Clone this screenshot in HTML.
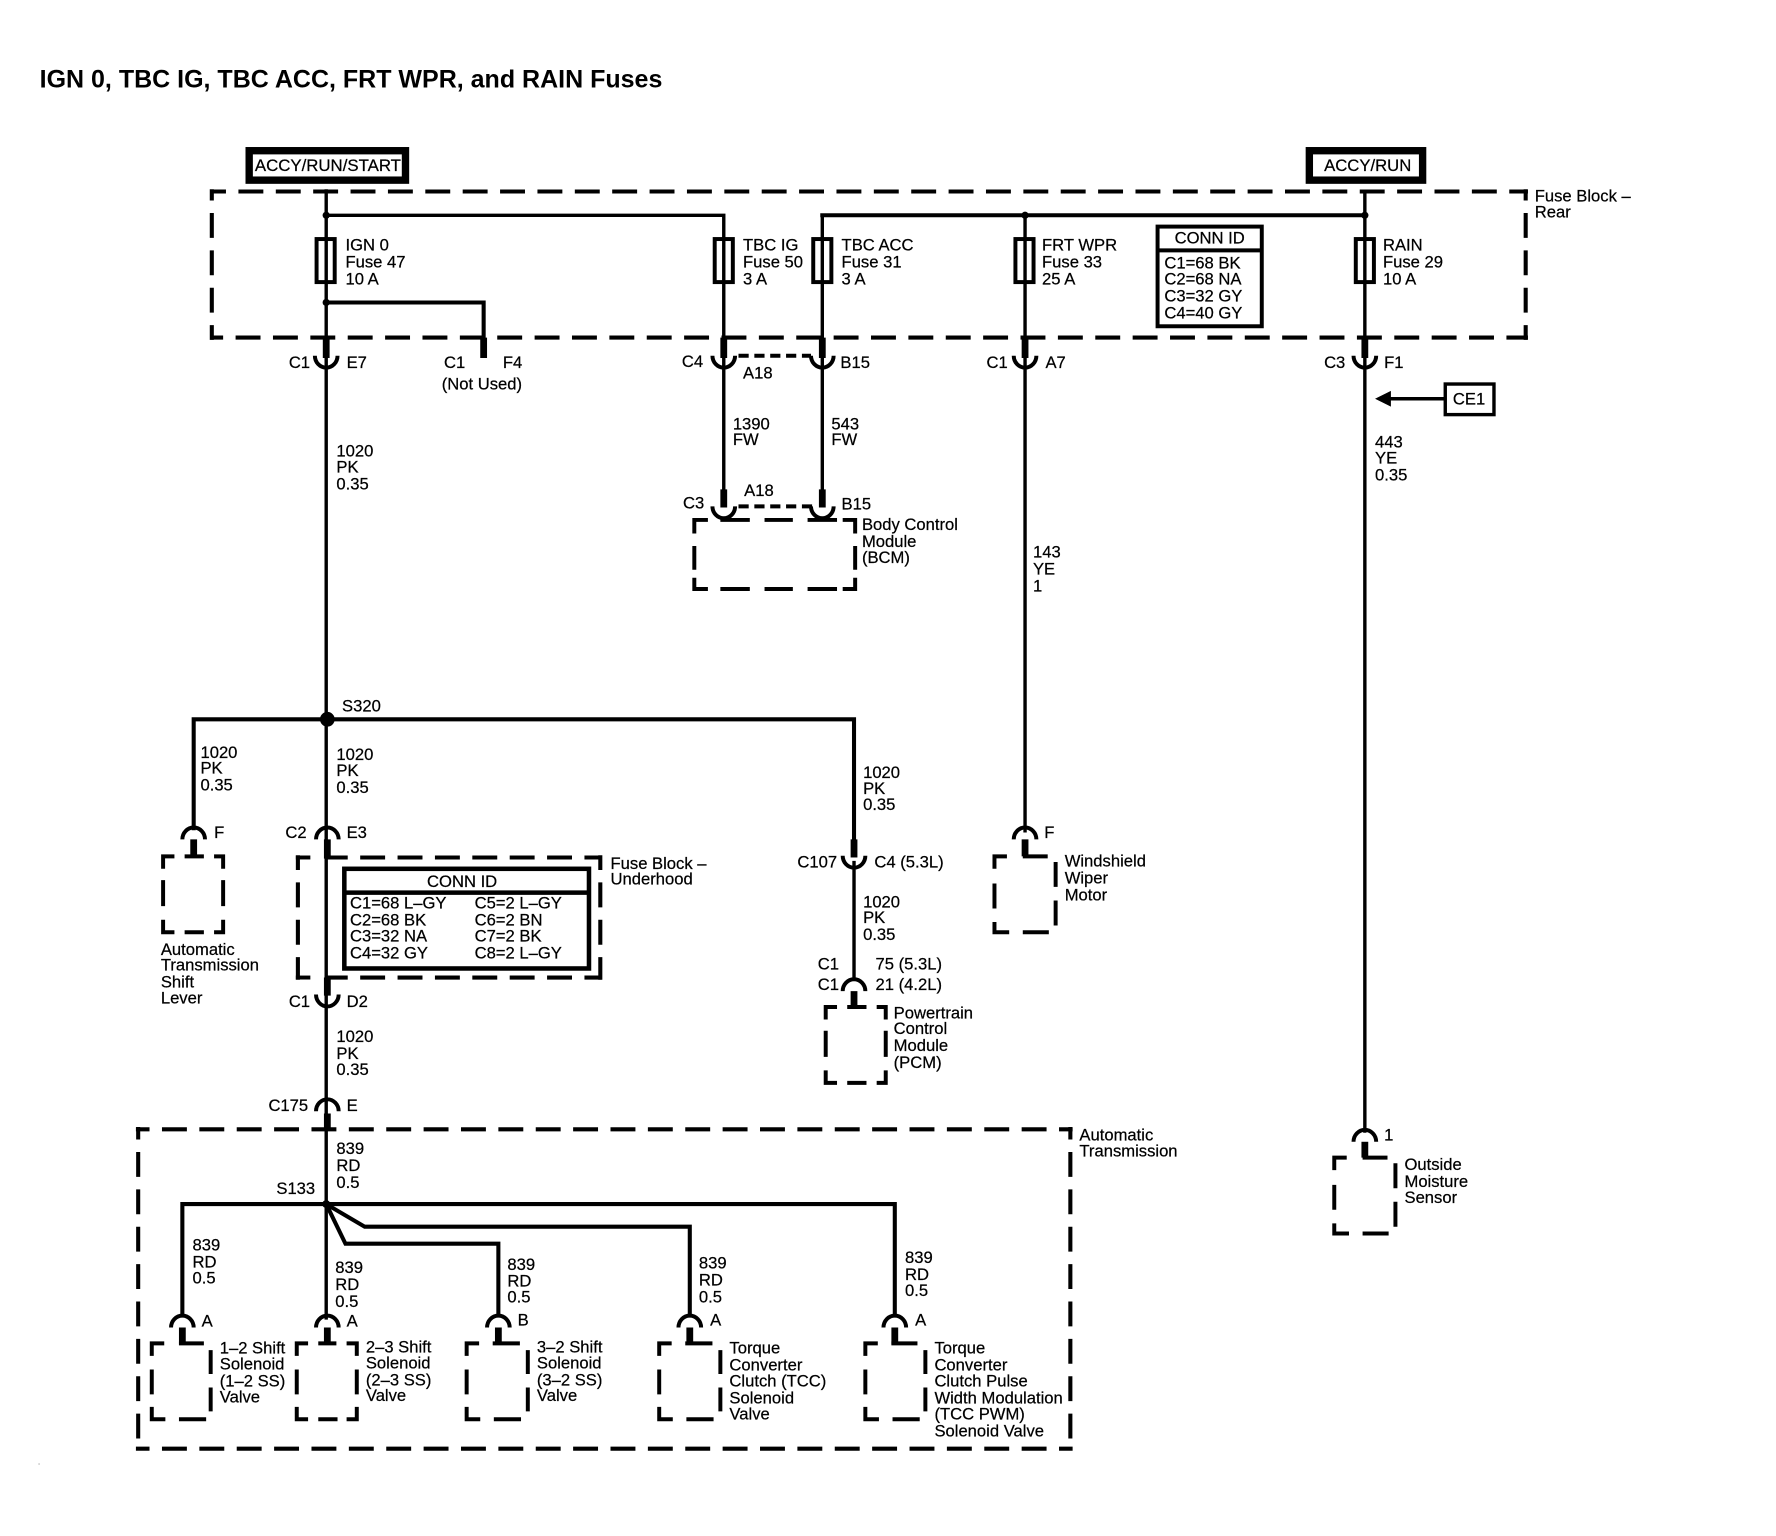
<!DOCTYPE html>
<html>
<head>
<meta charset="utf-8">
<style>
html,body{margin:0;padding:0;background:#fff;}
svg{display:block;}
text{font-family:"Liberation Sans",Arial,sans-serif;font-size:14.68px;fill:#000;stroke:#000;stroke-width:.2;}
.t{font-size:22.08px;font-weight:bold;stroke:none;}
.w{fill:none;stroke:#000;stroke-width:3;}
.h{fill:none;stroke:#000;stroke-width:3.6;}
.s{fill:none;stroke:#000;stroke-width:6;}
.c{fill:none;stroke:#000;stroke-width:3.5;}
.d{fill:none;stroke:#000;stroke-width:3.6;stroke-dasharray:22 11;}
</style>
</head>
<body>
<svg xmlns="http://www.w3.org/2000/svg" width="1776" height="1536" viewBox="0 0 1568 1356">
<defs>
<path id="u" class="c" d="M-10 0A10 10.5 0 0 0 10 0"/>
<path id="n" class="c" d="M-10 0A10 10.5 0 0 1 10 0"/>
</defs>
<rect width="1568" height="1356" fill="#fff"/>
<text class="t" x="35" y="77">IGN 0, TBC IG, TBC ACC, FRT WPR, and RAIN Fuses</text>
<rect x="220" y="133" width="138" height="26" fill="none" stroke="#000" stroke-width="6.5"/>
<text x="225" y="151" textLength="129" lengthAdjust="spacingAndGlyphs">ACCY/RUN/START</text>
<rect x="1156" y="133" width="100" height="26" fill="none" stroke="#000" stroke-width="6.5"/>
<text x="1169" y="151" textLength="77" lengthAdjust="spacingAndGlyphs">ACCY/RUN</text>

<!-- Fuse block rear frame -->
<path class="d" stroke-dashoffset="8.5" d="M186 169H1349"/>
<path class="d" stroke-dashoffset="11" d="M186 298H1349"/>
<path class="d" stroke-dashoffset="12" d="M187 167V300"/>
<path class="d" stroke-dashoffset="12" d="M1347 167V300"/>
<text x="1355" y="178">Fuse Block –</text>
<text x="1355" y="192">Rear</text>

<!-- Top wiring -->
<path class="w" d="M288 167V1165"/>
<path class="w" d="M288 190H639V445"/>
<path class="w" d="M726 190V445"/>
<path class="h" d="M724.2 190H1205"/>
<path class="w" d="M905 190V735"/>
<path class="w" d="M1205 169V1000"/>
<path class="h" d="M288 267H427V300"/>
<circle cx="288" cy="190" r="3.2"/>
<circle cx="288" cy="267" r="3.2"/>
<circle cx="905" cy="190" r="3.2"/>
<circle cx="1205" cy="190" r="3.2"/>

<!-- Fuses -->
<g fill="none" stroke="#000" stroke-width="3.5">
<rect x="279.5" y="211" width="16" height="38"/>
<rect x="631" y="211" width="16" height="38"/>
<rect x="718" y="211" width="16" height="38"/>
<rect x="896.5" y="211" width="16" height="38"/>
<rect x="1197" y="211" width="16" height="38"/>
</g>
<text x="305" y="221">IGN 0</text><text x="305" y="236">Fuse 47</text><text x="305" y="251">10 A</text>
<text x="656" y="221">TBC IG</text><text x="656" y="236">Fuse 50</text><text x="656" y="251">3 A</text>
<text x="743" y="221">TBC ACC</text><text x="743" y="236">Fuse 31</text><text x="743" y="251">3 A</text>
<text x="920" y="221">FRT WPR</text><text x="920" y="236">Fuse 33</text><text x="920" y="251">25 A</text>
<text x="1221" y="221">RAIN</text><text x="1221" y="236">Fuse 29</text><text x="1221" y="251">10 A</text>

<!-- Conn ID rear -->
<rect x="1022" y="200" width="92" height="88" fill="#fff" stroke="#000" stroke-width="3.5"/>
<path class="c" d="M1022 221H1114"/>
<text x="1068" y="215" text-anchor="middle">CONN ID</text>
<text x="1028" y="237">C1=68 BK</text>
<text x="1028" y="251">C2=68 NA</text>
<text x="1028" y="266">C3=32 GY</text>
<text x="1028" y="281">C4=40 GY</text>

<!-- Rear connectors -->
<path class="s" d="M288 298V316M427 298V316M639 298V316M726 298V316M905 298V316M1205 298V316"/>
<use href="#u" x="288" y="314"/><use href="#u" x="639" y="314"/><use href="#u" x="726" y="314"/><use href="#u" x="905" y="314"/><use href="#u" x="1205" y="314"/>
<path d="M652 314H716" fill="none" stroke="#000" stroke-width="3.5" stroke-dasharray="9 5"/>
<text x="255" y="325">C1</text><text x="306" y="325">E7</text>
<text x="392" y="325">C1</text><text x="444" y="325">F4</text>
<text x="390" y="344">(Not Used)</text>
<text x="602" y="324">C4</text><text x="656" y="334">A18</text><text x="742" y="325">B15</text>
<text x="871" y="325">C1</text><text x="923" y="325">A7</text>
<text x="1169" y="325">C3</text><text x="1222" y="325">F1</text>

<!-- CE1 -->
<rect x="1276" y="339" width="43" height="27" fill="none" stroke="#000" stroke-width="3"/>
<text x="1297" y="357" text-anchor="middle">CE1</text>
<path class="w" d="M1276 352H1226"/>
<path d="M1214 352L1228 345V359Z"/>

<text x="1214" y="395">443</text><text x="1214" y="409">YE</text><text x="1214" y="424">0.35</text>
<text x="297" y="403">1020</text><text x="297" y="417">PK</text><text x="297" y="432">0.35</text>
<text x="647" y="379">1390</text><text x="647" y="393">FW</text>
<text x="734" y="379">543</text><text x="734" y="393">FW</text>
<text x="912" y="492">143</text><text x="912" y="507">YE</text><text x="912" y="522">1</text>

<!-- BCM -->
<path class="s" d="M639 432V448M726 432V448"/>
<use href="#u" x="639" y="447"/><use href="#u" x="726" y="447"/>
<path d="M652 447H718" fill="none" stroke="#000" stroke-width="3.5" stroke-dasharray="9 5"/>
<path class="c" d="M613 471V459H625M636 459H662M675 459H700M713 459H739M744 459H755V471M613 482V503M755 482V503M613 510V520H625M636 520H662M675 520H700M713 520H739M744 520H755V510"/>
<text x="603" y="449">C3</text><text x="657" y="438">A18</text><text x="743" y="450">B15</text>
<text x="761" y="468">Body Control</text><text x="761" y="483">Module</text><text x="761" y="497">(BCM)</text>

<!-- S320 split -->
<circle cx="289" cy="635" r="6.5"/>
<path class="h" d="M171 733V635H754V745"/>
<text x="302" y="628">S320</text>
<text x="177" y="669">1020</text><text x="177" y="683">PK</text><text x="177" y="698">0.35</text>
<text x="297" y="671">1020</text><text x="297" y="685">PK</text><text x="297" y="700">0.35</text>
<text x="762" y="687">1020</text><text x="762" y="701">PK</text><text x="762" y="715">0.35</text>

<!-- Shift lever -->
<use href="#n" x="171" y="741"/>
<path class="s" d="M171 741V756"/>
<path class="c" d="M144 767V756H154M163 756H180M189 756H197V767M144 777V800M197 777V800M144 812V823H154M163 823H180M189 823H197V812"/>
<text x="189" y="740">F</text>
<text x="142" y="843">Automatic</text><text x="142" y="857">Transmission</text><text x="142" y="872">Shift</text><text x="142" y="886">Lever</text>

<!-- Fuse Block Underhood -->
<use href="#n" x="289" y="741"/>
<path class="s" d="M289 741V758M289 863V879M289 983V998"/>
<path class="d" stroke-dashoffset="9" d="M263 755V865"/>
<path class="c" d="M261.2 757H274"/>
<path class="d" stroke-dashoffset="4" d="M289 757H531"/>
<path class="c" d="M261.2 863H274"/>
<path class="d" stroke-dashoffset="4" d="M289 863H531"/>
<path class="d" stroke-dashoffset="9" d="M530 755V865"/>
<rect x="304" y="767" width="216" height="88" fill="#fff" stroke="#000" stroke-width="4"/>
<path d="M304 788H520" stroke="#000" stroke-width="4"/>
<text x="408" y="783" text-anchor="middle">CONN ID</text>
<text x="309" y="802">C1=68 L–GY</text><text x="419" y="802">C5=2 L–GY</text>
<text x="309" y="817">C2=68 BK</text><text x="419" y="817">C6=2 BN</text>
<text x="309" y="831">C3=32 NA</text><text x="419" y="831">C7=2 BK</text>
<text x="309" y="846">C4=32 GY</text><text x="419" y="846">C8=2 L–GY</text>
<text x="252" y="740">C2</text><text x="306" y="740">E3</text>
<text x="539" y="767">Fuse Block –</text><text x="539" y="781">Underhood</text>
<use href="#u" x="289" y="878"/>
<text x="255" y="889">C1</text><text x="306" y="889">D2</text>
<text x="297" y="920">1020</text><text x="297" y="935">PK</text><text x="297" y="949">0.35</text>
<use href="#n" x="289" y="981"/>
<text x="237" y="981">C175</text><text x="306" y="981">E</text>

<!-- C107 and PCM -->
<path class="s" d="M754 741V757"/>
<use href="#u" x="754" y="755.5"/>
<text x="704" y="766">C107</text><text x="772" y="766">C4 (5.3L)</text>
<path class="w" d="M754 760V866"/>
<text x="762" y="801">1020</text><text x="762" y="815">PK</text><text x="762" y="830">0.35</text>
<text x="722" y="856">C1</text><text x="722" y="874">C1</text>
<text x="773" y="856">75 (5.3L)</text><text x="773" y="874">21 (4.2L)</text>
<use href="#n" x="754" y="875"/>
<path class="s" d="M754 875V889"/>
<path class="c" d="M729 900V889H739M748 889H765M774 889H782V900M729 910V933M782 910V933M729 945V956H739M748 956H765M774 956H782V945"/>
<text x="789" y="899">Powertrain</text><text x="789" y="913">Control</text><text x="789" y="928">Module</text><text x="789" y="943">(PCM)</text>

<!-- Wiper -->
<use href="#n" x="905" y="741"/>
<path class="s" d="M905 741V756"/>
<path class="c" d="M878 767V756H889M903 756H925M932 761V783M932 795V817M878 780V802M878 814V823H891M903 823H926"/>
<text x="922" y="740">F</text>
<text x="940" y="765">Windshield</text><text x="940" y="780">Wiper</text><text x="940" y="795">Motor</text>

<!-- Outside Moisture -->
<use href="#n" x="1205" y="1008"/>
<path class="s" d="M1205 1008V1022"/>
<path class="c" d="M1178 1033V1022H1189M1203 1022H1225M1232 1027V1049M1232 1061V1083M1178 1046V1068M1178 1080V1089H1191M1203 1089H1226"/>
<text x="1222" y="1007">1</text>
<text x="1240" y="1033">Outside</text><text x="1240" y="1048">Moisture</text><text x="1240" y="1062">Sensor</text>

<!-- Automatic Transmission frame -->
<path class="d" stroke-dashoffset="10" d="M120 997H947"/>
<path class="d" stroke-dashoffset="10" d="M120 1279H947"/>
<path class="d" stroke-dashoffset="11" d="M122 995V1281"/>
<path class="d" stroke-dashoffset="11" d="M945 995V1281"/>
<text x="953" y="1007">Automatic</text><text x="953" y="1021">Transmission</text>
<text x="297" y="1019">839</text><text x="297" y="1034">RD</text><text x="297" y="1049">0.5</text>
<text x="244" y="1054">S133</text>

<!-- Transmission wiring -->
<circle cx="288" cy="1063" r="3.5"/>
<path class="h" d="M161 1163V1063H790V1163"/>
<path class="h" d="M288 1063L305 1098H440V1163"/>
<path class="h" d="M288 1063L322 1083H609V1163"/>

<use href="#n" x="161" y="1172"/><use href="#n" x="289" y="1172"/><use href="#n" x="440" y="1172"/><use href="#n" x="609" y="1172"/><use href="#n" x="790" y="1172"/>
<path class="s" d="M161 1172V1187M289 1172V1187M440 1172V1187M609 1172V1187M790 1172V1187"/>
<text x="170" y="1104">839</text><text x="170" y="1119">RD</text><text x="170" y="1133">0.5</text><text x="178" y="1171">A</text>
<text x="296" y="1124">839</text><text x="296" y="1139">RD</text><text x="296" y="1154">0.5</text><text x="306" y="1171">A</text>
<text x="448" y="1121">839</text><text x="448" y="1136">RD</text><text x="448" y="1150">0.5</text><text x="457" y="1170">B</text>
<text x="617" y="1120">839</text><text x="617" y="1135">RD</text><text x="617" y="1150">0.5</text><text x="627" y="1170">A</text>
<text x="799" y="1115">839</text><text x="799" y="1130">RD</text><text x="799" y="1144">0.5</text><text x="808" y="1170">A</text>

<!-- Solenoid frames -->
<path class="c" d="M134 1197V1186H145M158 1186H180M186 1192V1213M186 1225V1246M134 1209V1231M134 1242V1253H146M158 1253H182"/>
<path class="c" d="M262 1197V1186H272M281 1186H297M306 1186H315V1197M262 1209V1231M315 1209V1231M262 1242V1253H272M281 1253H298M306 1253H315V1242"/>
<path class="c" d="M412 1197V1186H423M435 1186H459M466 1192V1213M466 1225V1246M412 1209V1231M412 1242V1253H424M436 1253H460"/>
<path class="c" d="M582 1197V1186H593M605 1186H629M636 1192V1213M636 1225V1246M582 1209V1231M582 1242V1253H594M606 1253H630"/>
<path class="c" d="M764 1197V1186H775M787 1186H810M817 1192V1213M817 1225V1246M764 1209V1231M764 1242V1253H776M788 1253H812"/>

<text x="194" y="1195">1–2 Shift</text><text x="194" y="1209">Solenoid</text><text x="194" y="1224">(1–2 SS)</text><text x="194" y="1238">Valve</text>
<text x="323" y="1194">2–3 Shift</text><text x="323" y="1208">Solenoid</text><text x="323" y="1223">(2–3 SS)</text><text x="323" y="1237">Valve</text>
<text x="474" y="1194">3–2 Shift</text><text x="474" y="1208">Solenoid</text><text x="474" y="1223">(3–2 SS)</text><text x="474" y="1237">Valve</text>
<text x="644" y="1195">Torque</text><text x="644" y="1210">Converter</text><text x="644" y="1224">Clutch (TCC)</text><text x="644" y="1239">Solenoid</text><text x="644" y="1253">Valve</text>
<text x="825" y="1195">Torque</text><text x="825" y="1210">Converter</text><text x="825" y="1224">Clutch Pulse</text><text x="825" y="1239">Width Modulation</text><text x="825" y="1253">(TCC PWM)</text><text x="825" y="1268">Solenoid Valve</text>

<rect x="34" y="1292" width="1" height="1" fill="#999"/>
</svg>
</body>
</html>
